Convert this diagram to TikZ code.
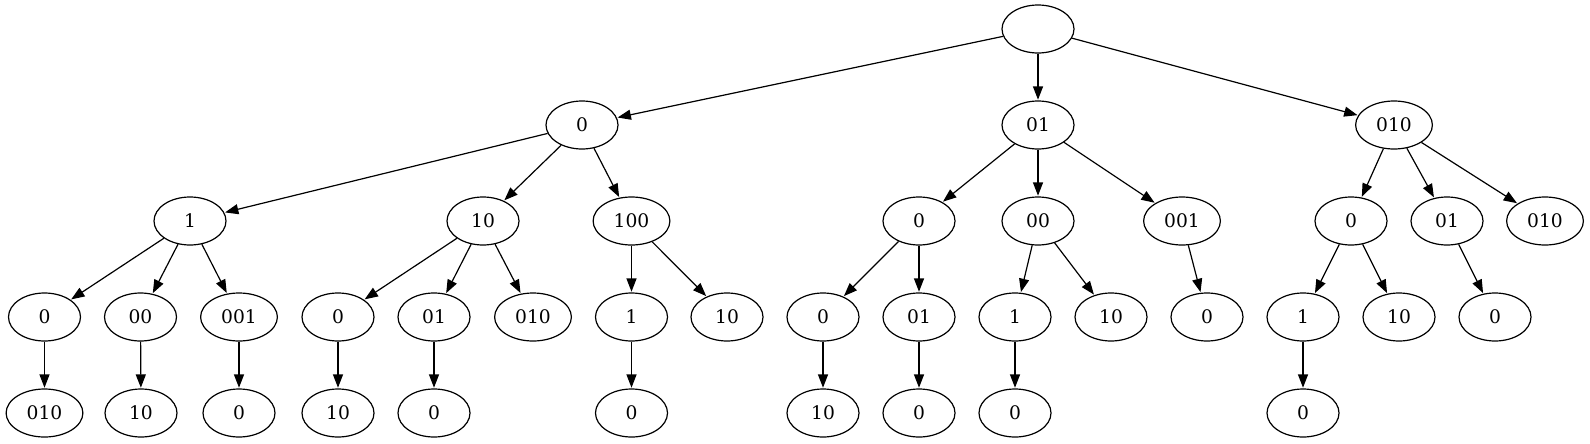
\documentclass[tikz,border=0pt]{standalone}
\usepackage{fontspec}
\setmainfont{DejaVu Serif}
\usetikzlibrary{shapes.geometric,arrows.meta}

\tikzset{
  tnode/.style={draw, ellipse, line width=0.9pt, inner xsep=7pt, inner ysep=2pt,
    minimum width=54pt, minimum height=36pt, font=\fontsize{14}{16}\selectfont},
  edge/.style={line width=0.9pt, -{Triangle[length=10pt,width=7.5pt]}, shorten >=0.5pt}
}

\begin{document}
\begin{tikzpicture}[x=0.75pt, y=-0.75pt]
  \useasboundingbox (0,0) rectangle (1590,443);

  % 根と第1段
  \node[tnode] (r) at (1038,29) {};
  \node[tnode] (a) at (582,125) {0};
  \node[tnode] (b) at (1038,125) {01};
  \node[tnode] (c) at (1394,125) {010};

  % 第2段
  \node[tnode] (aa) at (190,221) {1};
  \node[tnode] (ab) at (483,221) {10};
  \node[tnode] (ac) at (631.5,221) {100};
  \node[tnode] (ba) at (919,221) {0};
  \node[tnode] (bb) at (1038,221) {00};
  \node[tnode] (bc) at (1182,221) {001};
  \node[tnode] (ca) at (1351,221) {0};
  \node[tnode] (cb) at (1447,221) {01};
  \node[tnode] (cc) at (1545,221) {010};

  % 第3段
  \node[tnode] (aaa) at (44.5,317) {0};
  \node[tnode] (aab) at (140.5,317) {00};
  \node[tnode] (aac) at (239,317) {001};
  \node[tnode] (aba) at (338,317) {0};
  \node[tnode] (abb) at (434,317) {01};
  \node[tnode] (abc) at (533,317) {010};
  \node[tnode] (aca) at (631.5,317) {1};
  \node[tnode] (acb) at (727,317) {10};
  \node[tnode] (baa) at (823,317) {0};
  \node[tnode] (bab) at (919,317) {01};
  \node[tnode] (bba) at (1015,317) {1};
  \node[tnode] (bbb) at (1111,317) {10};
  \node[tnode] (bca) at (1207,317) {0};
  \node[tnode] (caa) at (1303,317) {1};
  \node[tnode] (cab) at (1399,317) {10};
  \node[tnode] (cba) at (1495,317) {0};

  % 第4段
  \node[tnode] (aaaa) at (44.5,413) {010};
  \node[tnode] (aaba) at (141,413) {10};
  \node[tnode] (aaca) at (239,413) {0};
  \node[tnode] (abaa) at (338,413) {10};
  \node[tnode] (abba) at (434,413) {0};
  \node[tnode] (acaa) at (631.5,413) {0};
  \node[tnode] (baaa) at (823,413) {10};
  \node[tnode] (baba) at (919,413) {0};
  \node[tnode] (bbaa) at (1015,413) {0};
  \node[tnode] (caaa) at (1303,413) {0};

  % 辺
  \draw[edge] (r) -- (a);
  \draw[edge] (r) -- (b);
  \draw[edge] (r) -- (c);
  \draw[edge] (a) -- (aa);
  \draw[edge] (a) -- (ab);
  \draw[edge] (a) -- (ac);
  \draw[edge] (b) -- (ba);
  \draw[edge] (b) -- (bb);
  \draw[edge] (b) -- (bc);
  \draw[edge] (c) -- (ca);
  \draw[edge] (c) -- (cb);
  \draw[edge] (c) -- (cc);
  \draw[edge] (aa) -- (aaa);
  \draw[edge] (aa) -- (aab);
  \draw[edge] (aa) -- (aac);
  \draw[edge] (ab) -- (aba);
  \draw[edge] (ab) -- (abb);
  \draw[edge] (ab) -- (abc);
  \draw[edge] (ac) -- (aca);
  \draw[edge] (ac) -- (acb);
  \draw[edge] (ba) -- (baa);
  \draw[edge] (ba) -- (bab);
  \draw[edge] (bb) -- (bba);
  \draw[edge] (bb) -- (bbb);
  \draw[edge] (bc) -- (bca);
  \draw[edge] (ca) -- (caa);
  \draw[edge] (ca) -- (cab);
  \draw[edge] (cb) -- (cba);
  \draw[edge] (aaa) -- (aaaa);
  \draw[edge] (aab) -- (aaba);
  \draw[edge] (aac) -- (aaca);
  \draw[edge] (aba) -- (abaa);
  \draw[edge] (abb) -- (abba);
  \draw[edge] (aca) -- (acaa);
  \draw[edge] (baa) -- (baaa);
  \draw[edge] (bab) -- (baba);
  \draw[edge] (bba) -- (bbaa);
  \draw[edge] (caa) -- (caaa);
\end{tikzpicture}
\end{document}
